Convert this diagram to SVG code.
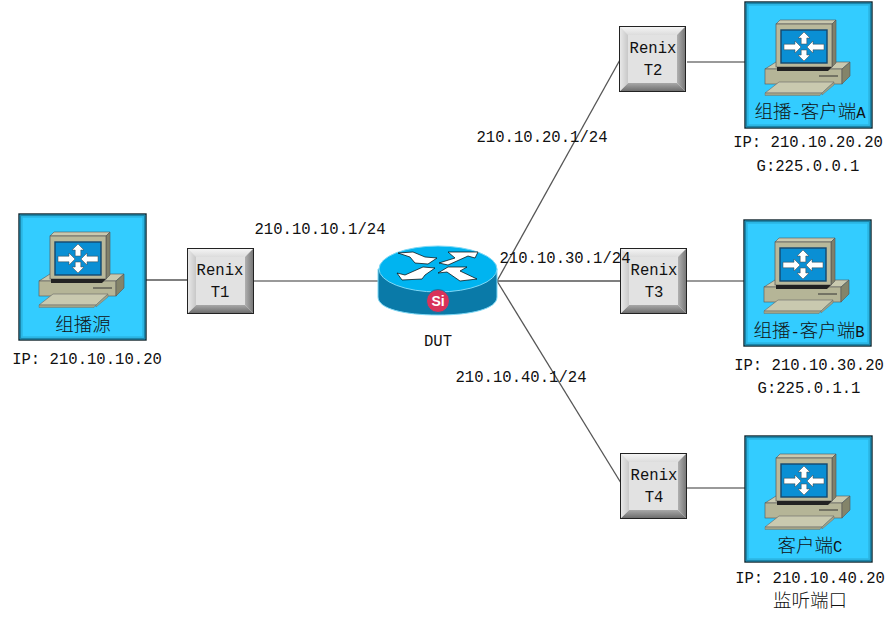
<svg xmlns="http://www.w3.org/2000/svg" width="895" height="621" viewBox="0 0 895 621">
<style>
text{font-family:"Liberation Mono","Noto Sans CJK SC",monospace;font-size:15.6px;fill:#111;text-anchor:middle}
.c{font-size:18.5px;font-family:"Noto Sans CJK SC",sans-serif;font-weight:300}
.ln{stroke:#555;stroke-width:1.3;fill:none}
.ln2{stroke:#777;stroke-width:1.6;fill:none}
</style>
<defs>
<linearGradient id="edgeT" x1="0" y1="0" x2="0" y2="1"><stop offset="0" stop-color="#f4f4f4"/><stop offset="1" stop-color="#dcdcdc"/></linearGradient>
<linearGradient id="edgeB" x1="0" y1="0" x2="0" y2="1"><stop offset="0" stop-color="#a8a8a8"/><stop offset="1" stop-color="#6e6e6e"/></linearGradient>
<linearGradient id="edgeL" x1="0" y1="0" x2="1" y2="0"><stop offset="0" stop-color="#e8e8e8"/><stop offset="1" stop-color="#c8c8c8"/></linearGradient>
<linearGradient id="edgeR" x1="0" y1="0" x2="1" y2="0"><stop offset="0" stop-color="#b0b0b0"/><stop offset="1" stop-color="#787878"/></linearGradient>
<g id="btn">
<rect x="0.5" y="0.5" width="66" height="65" fill="#e2e2e2" stroke="#222" stroke-width="1"/>
<polygon points="1,1 66,1 56,9 9,9" fill="url(#edgeT)"/>
<polygon points="1,65 66,65 58,57 9,57" fill="url(#edgeB)"/>
<polygon points="1,1 9,9 9,57 1,65" fill="url(#edgeL)"/>
<polygon points="66,1 58,9 58,57 66,65" fill="url(#edgeR)"/>
</g>
<g id="arrows">
<g fill="#fff" stroke="#444" stroke-width="0.5">
<polygon points="0,-15 6,-9 2.8,-9 2.8,-3 -2.8,-3 -2.8,-9 -6,-9"/>
<polygon points="0,14 6,8 2.8,8 2.8,3 -2.8,3 -2.8,8 -6,8"/>
<polygon points="-20,-2.8 -9,-2.8 -9,-6 -3,0 -9,6 -9,2.8 -20,2.8"/>
<polygon points="20,-2.8 9,-2.8 9,-6 3,0 9,6 9,2.8 20,2.8"/>
</g>
</g>
<g id="term">
<rect x="1" y="1" width="127" height="126" fill="#33ccff" stroke="#10242c" stroke-width="1.4"/>
<rect x="2.5" y="2.5" width="124" height="123" fill="none" stroke="#1b86ab" stroke-width="1.6"/>
<rect x="4" y="4" width="121" height="120" fill="none" stroke="#2bb4e2" stroke-width="1.4"/>
<polygon points="21,68 32,61 106,61 98,68" fill="#c9c9af" stroke="#555" stroke-width="0.6"/>
<rect x="21" y="68" width="77" height="15" fill="#b5b597" stroke="#555" stroke-width="0.6"/>
<polygon points="98,68 106,61 106,75 98,83" fill="#84846a" stroke="#555" stroke-width="0.6"/>
<line x1="75" y1="75" x2="94" y2="75" stroke="#333" stroke-width="1"/>
<polygon points="21,92 35,81 90,81 78,92" fill="#c9c9af" stroke="#666" stroke-width="0.6"/>
<polygon points="21,92 78,92 76,94.5 21,94.5" fill="#a3a386" stroke="#666" stroke-width="0.4"/>
<polygon points="90,81 90,84 78,94 78,92" fill="#a3a386" stroke="#666" stroke-width="0.4"/>
<polygon points="32,23 36,19 92,19 88,23" fill="#c9c9af" stroke="#555" stroke-width="0.6"/>
<polygon points="88,23 92,19 92,62 88,66" fill="#80806a" stroke="#555" stroke-width="0.6"/>
<rect x="32" y="23" width="56" height="43" fill="#b9b99b" stroke="#555" stroke-width="0.7"/>
<polygon points="33,66 88,66 84,70 33,70" fill="#222"/>
<rect x="37" y="29" width="46" height="33" fill="#0a8fd4" stroke="#14486e" stroke-width="1.4"/>
<use href="#arrows" x="60" y="46"/>
</g>
</defs>
<g id="connectors">
<line class="ln" x1="142" y1="280" x2="187" y2="280"/>
<line class="ln2" x1="254" y1="281" x2="378" y2="281"/>
<line class="ln" x1="497" y1="281" x2="621" y2="58"/>
<line class="ln" x1="497" y1="281" x2="620" y2="281"/>
<line class="ln" x1="497" y1="281" x2="621" y2="483"/>
<line class="ln2" x1="687" y1="62" x2="745" y2="62"/>
<line class="ln2" x1="687" y1="281" x2="744" y2="281"/>
<line class="ln2" x1="687" y1="488" x2="745" y2="488"/>
</g>
<g id="src"><use href="#term" x="18" y="213"/><text x="83" y="331" class="c">组播源</text></g>
<g id="clientA"><use href="#term" x="744" y="1"/><text x="810" y="118"><tspan class="c">组播</tspan>-<tspan class="c">客户端</tspan>A</text></g>
<g id="clientB"><use href="#term" x="743" y="219"/><text x="809" y="337"><tspan class="c">组播</tspan>-<tspan class="c">客户端</tspan>B</text></g>
<g id="clientC"><use href="#term" x="744" y="435"/><text x="810" y="552"><tspan class="c">客户端</tspan>C</text></g>
<g id="t1"><use href="#btn" x="187" y="248"/><text x="220" y="275">Renix</text><text x="220" y="297">T1</text></g>
<g id="t2"><use href="#btn" x="619" y="26"/><text x="653" y="53">Renix</text><text x="653" y="75">T2</text></g>
<g id="t3"><use href="#btn" x="620" y="248"/><text x="654" y="275">Renix</text><text x="654" y="297">T3</text></g>
<g id="t4"><use href="#btn" x="620" y="453"/><text x="654" y="480">Renix</text><text x="654" y="502">T4</text></g>
<g id="dut">
<path d="M378,269 V297 C378,309 405,315 438,315 C471,315 497,309 497,297 V269 Z" fill="#0a7aa8" stroke="#7fd8f5" stroke-width="1"/>
<ellipse cx="438" cy="269" rx="59" ry="23" fill="#00b4f0" stroke="#7fd8f5" stroke-width="1"/>
<g fill="#fff" stroke="#000" stroke-width="0.7">
<polygon points="398,253 413,252 425,257 437,258 428,264 415,263 410,257"/>
<polygon points="439,263 455,258 448,252 478,252 475,258 468,256 448,265"/>
<polygon points="397,273 405,275 423,267 435,268 425,275 422,279 402,280"/>
<polygon points="438,273 448,267 467,267 460,271 477,279 460,281 447,272"/>
</g>
<circle cx="438" cy="301" r="11.5" fill="#d8325a" stroke="#0a7aa8" stroke-width="1"/>
<text x="438" y="306" style="font-family:'Liberation Sans',sans-serif;font-weight:700;font-size:14px;fill:#fff">Si</text>
<text x="438" y="346">DUT</text>
</g>
<g id="labels">
<text x="87" y="364">IP: 210.10.10.20</text>
<text x="320" y="234">210.10.10.1/24</text>
<text x="542" y="142">210.10.20.1/24</text>
<text x="565" y="263">210.10.30.1/24</text>
<text x="521" y="382">210.10.40.1/24</text>
<text x="808" y="147">IP: 210.10.20.20</text>
<text x="808" y="171">G:225.0.0.1</text>
<text x="809" y="370">IP: 210.10.30.20</text>
<text x="809" y="393">G:225.0.1.1</text>
<text x="810" y="583">IP: 210.10.40.20</text>
<text x="810" y="607" class="c">监听端口</text>
</g>
</svg>
